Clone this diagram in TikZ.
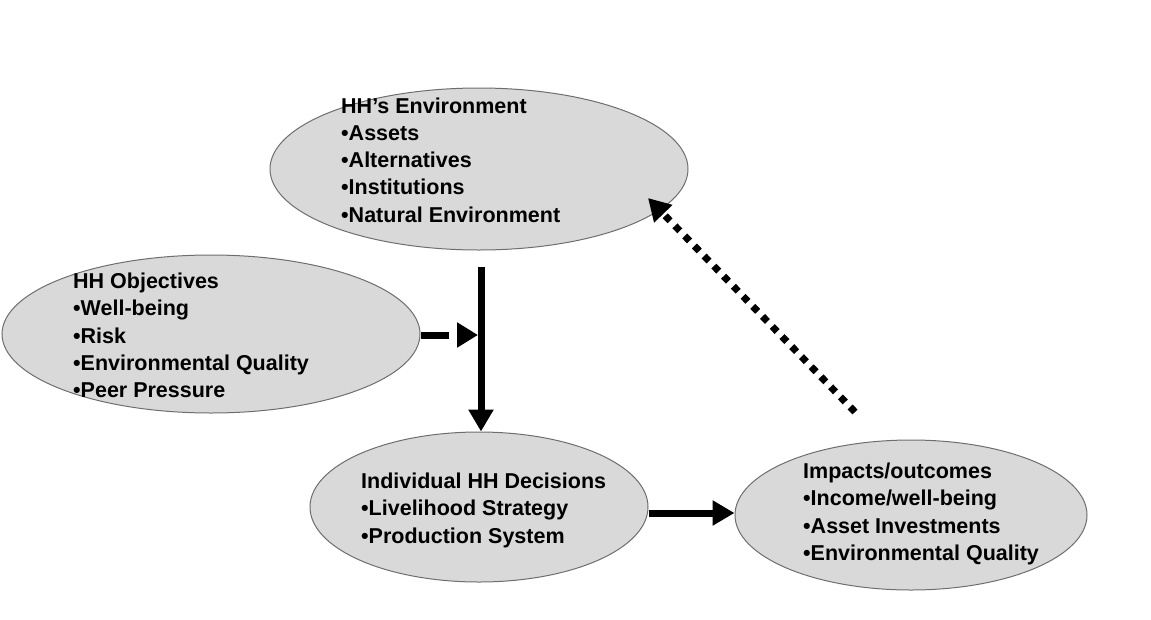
\documentclass[tikz,border=0pt]{standalone}
\usepackage{fontspec}
\setmainfont{Liberation Sans}
\usetikzlibrary{shapes.geometric,arrows.meta}
\definecolor{ellfill}{RGB}{217,217,217}
\definecolor{ellline}{RGB}{110,110,110}
\tikzset{
  ell/.style={ellipse, draw=ellline, line width=1pt, fill=ellfill, inner sep=0pt},
  lbl/.style={anchor=north west, inner sep=0pt, align=left, font=\fontsize{21.5}{27.2}\selectfont\bfseries},
  thick arrow/.style={line width=7pt, -{Triangle[length=22pt,width=24pt]}},
}
\begin{document}
\begin{tikzpicture}[x=1pt,y=-1pt]
\useasboundingbox (0,0) rectangle (1151,619);
\node[ell, minimum width=418pt, minimum height=162pt] (env) at (479,169) {};
\node[ell, minimum width=418pt, minimum height=158pt] (obj) at (211,334) {};
\node[ell, minimum width=338pt, minimum height=150pt] (dec) at (479,507) {};
\node[ell, minimum width=352pt, minimum height=150pt] (imp) at (911,515) {};

\node[lbl] (envt) at (341,97.5) {HH’s Environment\\•Assets\\•Alternatives\\•Institutions\\•Natural Environment};
\node[lbl] (objt) at (73,273) {HH Objectives\\•Well-being\\•Risk\\•Environmental Quality\\•Peer Pressure};
\node[lbl] (dect) at (361,473) {Individual HH Decisions\\•Livelihood Strategy\\•Production System};
\node[lbl] (impt) at (803,463) {Impacts/outcomes\\•Income/well-being\\•Asset Investments\\•Environmental Quality};

\coordinate (vtop) at (481,267);
\coordinate (vjoin) at (481,335);
\coordinate (hrow) at (0,513);
\coordinate (dtip) at (648,198);
\coordinate (dstart) at (855,412);

\draw[thick arrow] (vtop) -- (dec.north -| vtop);
\draw[line width=7pt, dash pattern=on 28pt off 10pt, -{Triangle[length=21pt,width=24pt]}] (obj.east |- vjoin) -- ([xshift=-3pt]vjoin);
\draw[thick arrow] (dec.east |- hrow) -- (imp.west |- hrow);
\draw[line width=7pt, dash pattern=on 7pt off 7pt, -{Triangle[length=22pt,width=24pt]}] (dstart) -- (dtip);
\end{tikzpicture}
\end{document}
